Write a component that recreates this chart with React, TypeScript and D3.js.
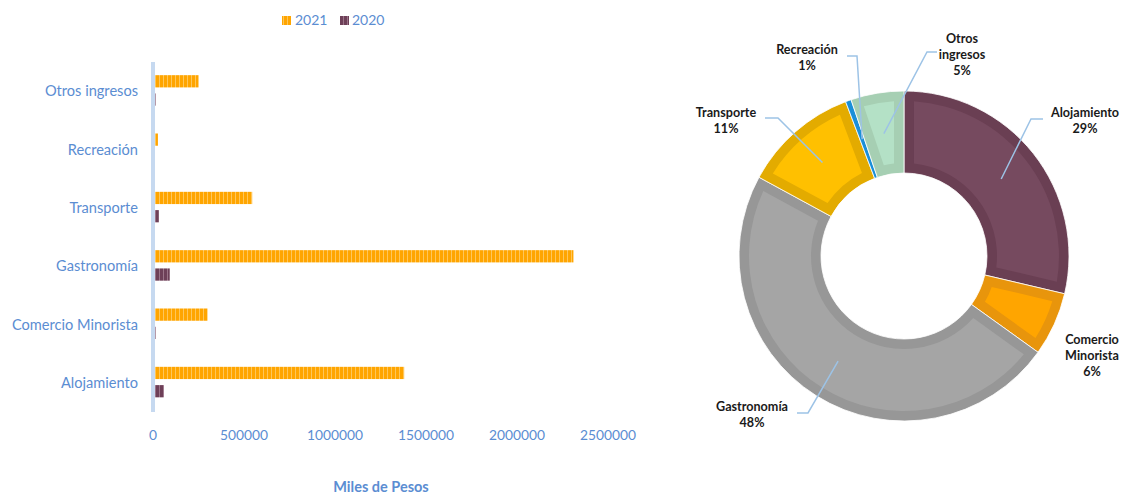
import React from "react";
import * as d3 from "d3";

// ---------- DATA ----------
const categories = ["Alojamiento", "Comercio Minorista", "Gastronomía", "Transporte", "Recreación", "Otros ingresos"];
const values2021 = [1380000, 300000, 2310000, 545000, 27000, 250000];
const values2020 = [60000, 15000, 92000, 32000, 1000, 15000];
const seriesNames = ["2021", "2020"];
const xTicks = [0, 500000, 1000000, 1500000, 2000000, 2500000];
const pieLabelLines = [["Alojamiento"], ["Comercio", "Minorista"], ["Gastronomía"], ["Transporte"], ["Recreación"], ["Otros", "ingresos"]];

// ---------- LAYOUT / STYLE ----------
const W = 1126, H = 496;
const blue = "#5B8DD2";
const font = "Lato, 'Open Sans', sans-serif";
const seriesColors = [
  { base: "#FFA500", stripe: "#FFC65A" },
  { base: "#6E4058", stripe: "#9B7488" },
];
const pieOuter = ["#6A3F53", "#E8950C", "#979797", "#E3AB00", "#1A8FD8", "#A6CFB3"];
const pieInner = ["#764A5F", "#FFA500", "#A5A5A5", "#FFC000", "#2E9FE6", "#B4E1C6"];
const pieLayout = [
  { x: 1085, y: 112, lead: [[1031, 119], [1043, 119]] },
  { x: 1092, y: 339, lead: null },
  { x: 752, y: 406, lead: [[808, 413], [797, 413]] },
  { x: 726, y: 112, lead: [[778, 118], [765, 118]] },
  { x: 807, y: 49, lead: [[857, 56], [847, 56]] },
  { x: 962, y: 38, lead: [[927, 52], [937, 52]] },
];

export default function App() {
  // Bar chart scales
  const x = d3.scaleLinear().domain([0, 2500000]).range([153, 608]);
  const y = d3.scaleBand<string>().domain([...categories].reverse()).range([62, 412]);
  const ySub = d3.scaleBand<string>().domain(seriesNames).range([-16, 14.5]).paddingInner(0.33);
  const seriesValues = [values2021, values2020];

  // Pie
  const cx = 904, cy = 256, rOut = 165, rIn = 83, border = 10;
  const pie = d3.pie<number>().sort(null).value((d) => d);
  const arcs = pie(values2021);
  const total = d3.sum(values2021);
  const outerArc = d3.arc<d3.PieArcDatum<number>>().innerRadius(rIn).outerRadius(rOut);
  const innerArc = d3
    .arc<d3.PieArcDatum<number>>()
    .innerRadius(rIn + border)
    .outerRadius(rOut - border)
    .padRadius(100)
    .padAngle((2 * border) / 100);

  return (
    <svg width={W} height={H} style={{ position: "absolute", left: 0, top: 0, background: "#fff" }} fontFamily={font}>
      <defs>
        {seriesColors.map((c, i) => (
          <pattern key={i} id={`stripe${i}`} patternUnits="userSpaceOnUse" width={4} height={4}>
            <rect width={4} height={4} fill={c.base} />
            <rect x={3} width={1} height={4} fill={c.stripe} />
          </pattern>
        ))}
      </defs>

      {/* Legend */}
      <g>
        <rect x={282} y={16} width={9} height={9} fill="url(#stripe0)" />
        <text x={295} y={25} fontSize={14} fill={blue}>{seriesNames[0]}</text>
        <rect x={340} y={16} width={9} height={9} fill="url(#stripe1)" />
        <text x={352} y={25} fontSize={14} fill={blue}>{seriesNames[1]}</text>
      </g>

      {/* Bars */}
      {categories.map((cat, ci) => {
        const c = (y(cat) as number) + y.bandwidth() / 2;
        return (
          <g key={cat}>
            {seriesNames.map((s, si) => (
              <rect
                key={s}
                x={x(0)}
                y={c + (ySub(s) as number)}
                width={Math.max(0, x(seriesValues[si][ci]) - x(0))}
                height={ySub.bandwidth()}
                fill={`url(#stripe${si})`}
              />
            ))}
            <text x={138} y={c + 5} textAnchor="end" fontSize={14.6} fill={blue}>
              {cat}
            </text>
          </g>
        );
      })}

      {/* Axis line */}
      <line x1={153} x2={153} y1={62} y2={412} stroke="#C6D9F0" strokeWidth={4} />

      {/* X tick labels */}
      {xTicks.map((t) => (
        <text key={t} x={x(t)} y={440} textAnchor="middle" fontSize={13.8} fill={blue}>
          {t}
        </text>
      ))}
      <text x={381} y={492} textAnchor="middle" fontSize={14.5} fontWeight="bold" fill={blue}>
        Miles de Pesos
      </text>

      {/* Donut */}
      <g transform={`translate(${cx},${cy})`}>
        {arcs.map((a, i) => (
          <g key={i}>
            <path d={outerArc(a) || ""} fill={pieOuter[i]} stroke="#fff" strokeWidth={0.8} />
            <path d={innerArc(a) || ""} fill={pieInner[i]} />
          </g>
        ))}
      </g>

      {/* Leader lines */}
      {arcs.map((a, i) => {
        const L = pieLayout[i];
        if (!L.lead) return null;
        const [px, py] = outerArc.centroid(a);
        const pts = [[cx + px, cy + py], ...L.lead];
        return (
          <polyline
            key={i}
            points={pts.map((p) => p.join(",")).join(" ")}
            fill="none"
            stroke="#9DC3E6"
            strokeWidth={1.5}
          />
        );
      })}

      {/* Pie labels */}
      {arcs.map((a, i) => {
        const L = pieLayout[i];
        const lines = [...pieLabelLines[i], `${Math.round((a.data / total) * 100)}%`];
        return (
          <text key={i} textAnchor="middle" fontSize={12.6} fontWeight="bold" fill="#1a1a1a">
            {lines.map((ln, k) => (
              <tspan key={k} x={L.x} y={L.y + 4.5 + k * 16}>
                {ln}
              </tspan>
            ))}
          </text>
        );
      })}
    </svg>
  );
}
